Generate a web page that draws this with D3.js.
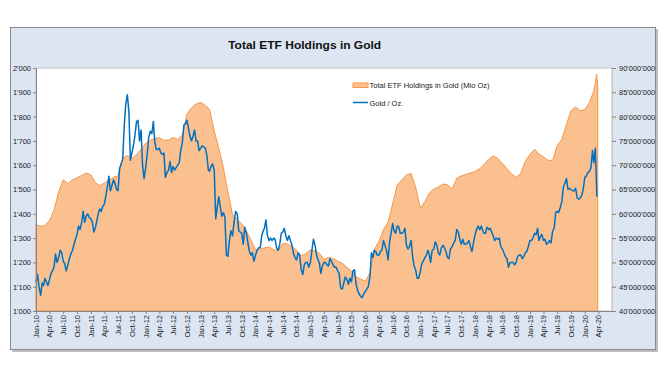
<!DOCTYPE html>
<html><head><meta charset="utf-8">
<script src="https://cdnjs.cloudflare.com/ajax/libs/d3/7.8.5/d3.min.js"></script>
<style>
body{margin:0;background:#fff}
svg{display:block;font-family:Arial,"Liberation Sans",sans-serif}
</style>
</head><body>
<svg id="chart" width="670" height="377"></svg>
<script>
// ---------------- DATA ----------------
const chartTitle = "Total ETF Holdings in Gold";
const seriesNames = ["Total ETF Holdings in Gold (Mio Oz)", "Gold / Oz."];

// Left axis (gold price, USD/oz) and right axis (ETF holdings, Mio oz)
const leftTicks = [1000,1100,1200,1300,1400,1500,1600,1700,1800,1900,2000];
const rightTicks = [40,45,50,55,60,65,70,75,80,85,90];

// Quarterly x tick labels
const xTickLabels = [
 "Jan-10","Apr-10","Jul-10","Oct-10","Jan-11","Apr-11","Jul-11","Oct-11",
 "Jan-12","Apr-12","Jul-12","Oct-12","Jan-13","Apr-13","Jul-13","Oct-13",
 "Jan-14","Apr-14","Jul-14","Oct-14","Jan-15","Apr-15","Jul-15","Oct-15",
 "Jan-16","Apr-16","Jul-16","Oct-16","Jan-17","Apr-17","Jul-17","Oct-17",
 "Jan-18","Apr-18","Jul-18","Oct-18","Jan-19","Apr-19","Jul-19","Oct-19",
 "Jan-20","Apr-20"];

// Gold price, three readings per month (around the 1st, 11th and 21st), Jan-2010 .. Mar-2020
const goldPrice = [
 // 2010
 1120,1150,1100, 1065,1115,1105, 1135,1120,1105, 1130,1155,1165, 1180,1235,1200, 1220,1250,1240,
 1205,1195,1165, 1190,1215,1235, 1250,1275,1295, 1315,1350,1335, 1365,1410,1365, 1390,1400,1385,
 // 2011
 1380,1365,1325, 1345,1375,1405, 1420,1410,1430, 1440,1475,1510, 1555,1495,1515, 1540,1525,1500,
 1495,1585,1605, 1625,1760,1850, 1890,1820,1620, 1650,1680,1720, 1780,1785,1700, 1745,1600,1545,
 // 2012
 1590,1645,1715, 1740,1730,1780, 1700,1665,1665, 1670,1650,1645, 1650,1550,1570, 1580,1615,1570,
 1595,1580,1590, 1600,1610,1660, 1695,1765,1770, 1785,1755,1720, 1700,1720,1745, 1700,1700,1660,
 // 2013
 1670,1680,1675, 1670,1640,1580, 1575,1595,1605, 1580,1380,1425, 1470,1430,1390, 1405,1385,1230,
 1225,1290,1330, 1310,1365,1410, 1400,1330,1325, 1320,1275,1345, 1320,1280,1245, 1230,1240,1205,
 // 2014
 1230,1250,1260, 1260,1310,1330, 1340,1375,1310, 1290,1300,1290, 1300,1295,1260, 1250,1275,1320,
 1325,1340,1310, 1290,1310,1290, 1270,1235,1220, 1210,1240,1230, 1170,1150,1190, 1200,1200,1180,
 // 2015
 1200,1250,1295, 1270,1230,1210, 1200,1155,1185, 1200,1200,1190, 1185,1215,1205, 1190,1180,1180,
 1165,1155,1095, 1090,1115,1140, 1130,1110,1135, 1120,1165,1170, 1110,1085,1070, 1060,1055,1070,
 // 2016
 1080,1090,1100, 1140,1240,1220, 1250,1245,1230, 1230,1245,1250, 1290,1270,1250, 1210,1285,1320,
 1360,1330,1320, 1350,1345,1320, 1320,1325,1340, 1270,1255,1265, 1290,1225,1185, 1170,1135,1135,
 // 2017
 1160,1195,1205, 1220,1230,1250, 1235,1200,1250, 1255,1285,1270, 1240,1230,1260, 1270,1260,1245,
 1220,1215,1255, 1265,1280,1290, 1335,1325,1295, 1275,1295,1275, 1275,1280,1290, 1265,1245,1280,
 // 2018
 1315,1335,1350, 1335,1350,1330, 1320,1320,1345, 1335,1340,1325, 1310,1290,1300, 1295,1300,1265,
 1255,1240,1225, 1215,1180,1200, 1200,1200,1190, 1200,1225,1230, 1230,1215,1225, 1240,1245,1265,
 // 2019
 1290,1290,1300, 1320,1315,1340, 1290,1305,1315, 1290,1295,1275, 1280,1290,1280, 1330,1340,1405,
 1410,1405,1425, 1450,1510,1525, 1545,1500,1505, 1500,1495,1495, 1505,1465,1460, 1465,1475,1500,
 // 2020
 1550,1555,1570, 1575,1590,1660, 1610,1670,1470
];

// Total ETF holdings (Mio oz), one reading per month (1st), Jan-2010 .. Mar-2020
const etfHoldings = [
 57.8,57.4,57.6,58.6,60.8,64.5,67.0,66.2,67.0,67.4,67.9,68.4,   // 2010
 68.0,66.4,65.8,66.3,66.9,67.5,67.8,71.5,72.0,71.4,72.2,73.3,   // 2011
 74.5,75.1,75.5,75.7,75.1,75.2,75.7,75.3,76.2,80.5,81.8,82.6,   // 2012
 82.9,82.3,81.5,77.0,73.5,69.5,64.5,59.8,58.8,57.9,56.5,54.6,   // 2013
 52.6,52.7,53.0,53.2,52.6,52.5,53.9,53.8,53.2,52.5,51.3,51.8,   // 2014
 52.6,52.4,51.9,50.6,51.0,50.8,50.3,49.8,49.0,48.2,47.0,46.6,   // 2015
 46.1,47.8,52.6,54.3,56.7,58.3,62.0,65.9,67.0,68.0,68.3,65.5,   // 2016
 61.2,62.5,64.2,65.1,65.5,66.1,66.0,65.1,67.3,67.8,68.1,68.4,   // 2017
 68.7,69.3,70.1,71.2,71.9,71.4,70.4,69.3,68.2,67.5,68.3,70.8,   // 2018
 72.2,73.3,72.3,71.7,71.0,71.0,74.0,75.3,78.4,81.2,82.0,81.2,   // 2019
 81.4,82.9,85.3                                                 // 2020
];
// last readings of March 2020
const etfTailDates = ["2020-03-12","2020-03-19","2020-03-27"];
const etfTailValues = [87.0,88.8,86.5];

// ---------------- CHART ----------------
const svg = d3.select("#chart");
const fmtNum = d3.formatLocale({decimal:".", thousands:"'", grouping:[3], currency:["",""]}).format(",.0f");
const parse = d3.timeParse("%Y-%m-%d");
const parseTick = d3.timeParse("%b-%y");

const goldData = goldPrice.map((v,i)=>({date:new Date(2010, Math.floor(i/3), 1 + (i%3)*10), value:v}));
const etfData = etfHoldings.map((v,i)=>({date:new Date(2010, i, 1), value:v}))
  .concat(etfTailDates.map((d,i)=>({date:parse(d), value:etfTailValues[i]})));

const plot = {left:36, right:612, top:68, bottom:311};

const x = d3.scaleTime().domain([parseTick(xTickLabels[0]), parseTick(xTickLabels[xTickLabels.length-1])]).range([36, 598.5]);
const yL = d3.scaleLinear().domain([leftTicks[0], leftTicks[leftTicks.length-1]]).range([plot.bottom, plot.top]);
const yR = d3.scaleLinear().domain([rightTicks[0], rightTicks[rightTicks.length-1]]).range([plot.bottom, plot.top]);

// frame with shadow
svg.append("rect").attr("x",12).attr("y",29).attr("width",646).attr("height",323).attr("fill","#bdbdbd");
svg.append("rect").attr("x",10.5).attr("y",27.5).attr("width",645).attr("height",322)
  .attr("fill","#DCE6F2").attr("stroke","#8a8a8a").attr("stroke-width",1);

// title
svg.append("text").attr("x",304.7).attr("y",49).attr("text-anchor","middle")
  .attr("font-size","11.5px").attr("font-weight","bold").attr("fill","#111")
  .attr("textLength",153).attr("lengthAdjust","spacingAndGlyphs").text(chartTitle);

// plot area
svg.append("rect").attr("x",plot.left).attr("y",plot.top).attr("width",plot.right-plot.left).attr("height",plot.bottom-plot.top)
  .attr("fill","#fff").attr("stroke","#bfbfbf").attr("stroke-width",1);

// area (ETF holdings, right axis)
const area = d3.area().x(d=>x(d.date)).y0(yR(rightTicks[0])).y1(d=>yR(d.value));
svg.append("path").datum(etfData).attr("d",area)
  .attr("fill","#FAC090").attr("stroke","#F79646").attr("stroke-width",1).attr("stroke-linejoin","round");

// line (gold, left axis)
const line = d3.line().x(d=>x(d.date)).y(d=>yL(d.value));
svg.append("path").datum(goldData).attr("d",line)
  .attr("fill","none").attr("stroke","#0070C0").attr("stroke-width",1.5).attr("stroke-linejoin","round");

// axes
const axisColor = "#868686";
const gL = svg.append("g").attr("transform",`translate(${plot.left},0)`)
  .call(d3.axisLeft(yL).tickValues(leftTicks).tickSize(3).tickPadding(2).tickFormat(fmtNum));
const gR = svg.append("g").attr("transform",`translate(${plot.right},0)`)
  .call(d3.axisRight(yR).tickValues(rightTicks).tickSize(4).tickPadding(3).tickFormat(d=>fmtNum(d*1e6)));
const gX = svg.append("g").attr("transform",`translate(0,${plot.bottom})`)
  .call(d3.axisBottom(x).tickValues(xTickLabels.map(parseTick)).tickSize(3).tickFormat(d3.timeFormat("%b-%y")));

[gL,gR,gX].forEach(g=>{
  g.selectAll("path.domain").attr("stroke",axisColor);
  g.selectAll(".tick line").attr("stroke",axisColor);
  g.selectAll("text").attr("font-size","7.5px").attr("fill","#222").attr("font-family","Arial, 'Liberation Sans', sans-serif");
});
gR.select("path.domain").attr("stroke","#c8c8c8");
gX.select("path.domain").attr("d",`M${plot.left},0.5H${plot.right}`);
gX.selectAll(".tick text")
  .attr("transform","rotate(-90)")
  .attr("text-anchor","end")
  .attr("x",-4).attr("y",0).attr("dy","0.32em");

// legend
const lg = svg.append("g");
lg.append("rect").attr("x",353).attr("y",83).attr("width",15).attr("height",4.5)
  .attr("fill","#FAC090").attr("stroke","#F79646").attr("stroke-width",1);
lg.append("text").attr("x",369.5).attr("y",88).attr("font-size","7.5px").attr("fill","#222").text(seriesNames[0]);
lg.append("line").attr("x1",353).attr("x2",368).attr("y1",102.5).attr("y2",102.5)
  .attr("stroke","#0070C0").attr("stroke-width",1.5);
lg.append("text").attr("x",369.5).attr("y",105.5).attr("font-size","7.5px").attr("fill","#222").text(seriesNames[1]);
</script>
</body></html>
